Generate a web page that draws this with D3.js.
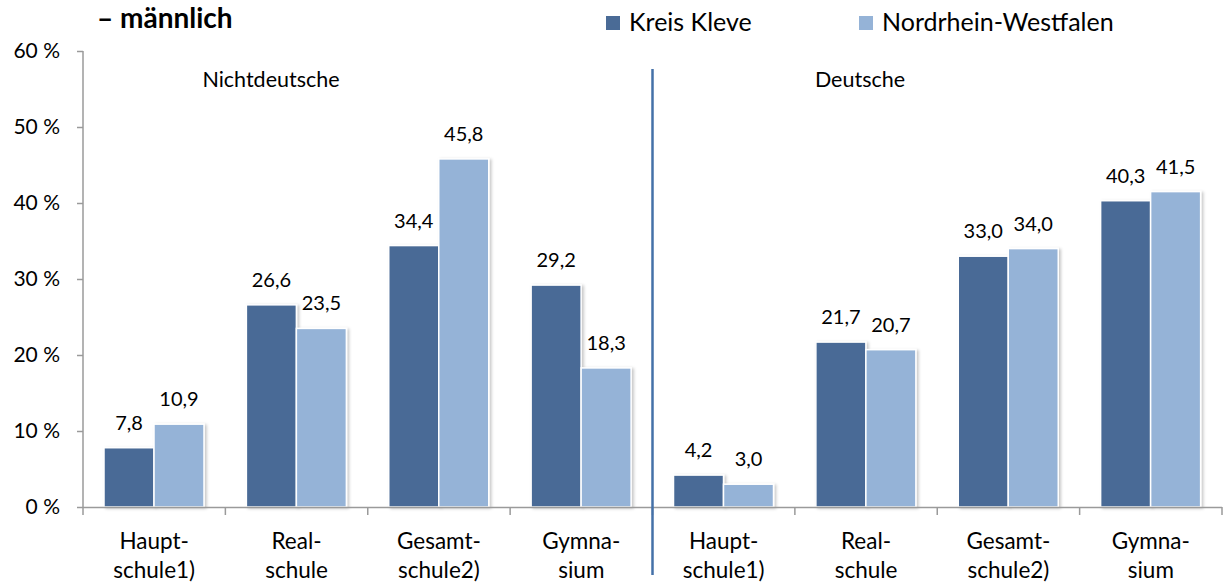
<!DOCTYPE html>
<html><head><meta charset="utf-8">
<script src="https://cdn.jsdelivr.net/npm/d3@7"></script>
<style>
body{margin:0;background:#fff;}
svg{display:block;font-family:Lato,"Open Sans",sans-serif;}
</style></head>
<body><svg id="c" width="1223" height="583"></svg>
<script>
const categories = ["Haupt-|schule1)","Real-|schule","Gesamt-|schule2)","Gymna-|sium","Haupt-|schule1)","Real-|schule","Gesamt-|schule2)","Gymna-|sium"];
const groups = ["Nichtdeutsche","Deutsche"];
const seriesNames = ["Kreis Kleve","Nordrhein-Westfalen"];
const kreisKleve = [7.8,26.6,34.4,29.2,4.2,21.7,33.0,40.3];
const nrw = [10.9,23.5,45.8,18.3,3.0,20.7,34.0,41.5];
const yTicks = [0,10,20,30,40,50,60];
const colors = ["#4a6b96","#95b3d7"];

const svg = d3.select("#c");
const defs = svg.append("defs");
const f = defs.append("filter").attr("id","sh").attr("x","-20%").attr("y","-20%").attr("width","150%").attr("height","140%");
f.append("feDropShadow").attr("dx",2).attr("dy",1).attr("stdDeviation",1.5).attr("flood-color","#000").attr("flood-opacity",0.22);

const x0 = 83, x1 = 1222, yBase = 507, yTop = 51;
const x = d3.scaleBand().domain(d3.range(categories.length)).range([x0,x1]).padding(0);
const xs = d3.scaleBand().domain(seriesNames).range([21,121]).padding(0);
const y = d3.scaleLinear().domain([0,60]).range([yBase,yTop]);

// axes
const axisCol = "#9a9a9a";
const yAx = svg.append("g").attr("transform",`translate(${x0},0)`)
  .call(d3.axisLeft(y).tickValues(yTicks).tickSize(6).tickPadding(17).tickFormat(d=>d+" %"));
yAx.select(".domain").remove();
yAx.selectAll(".tick line").attr("stroke",axisCol).attr("stroke-width",1.5);
yAx.selectAll(".tick text").attr("font-size",21).attr("fill","#000").attr("font-family","Lato,sans-serif");
svg.append("line").attr("x1",x0).attr("x2",x0).attr("y1",yTop).attr("y2",yBase).attr("stroke",axisCol).attr("stroke-width",1.5);

// bars
const data = categories.map((c,i)=>({i, vals:[kreisKleve[i],nrw[i]]}));
const g = svg.append("g");
data.forEach(d=>{
  d.vals.forEach((v,k)=>{
    g.append("rect")
      .attr("x",x(d.i)+xs(seriesNames[k]))
      .attr("y",y(v))
      .attr("width",xs.bandwidth())
      .attr("height",yBase-y(v))
      .attr("fill",colors[k]).attr("stroke","#fff").attr("stroke-width",1.5)
      .attr("filter","url(#sh)");
    g.append("text")
      .attr("x",x(d.i)+xs(seriesNames[k])+xs.bandwidth()/2)
      .attr("y",y(v)-18)
      .attr("text-anchor","middle").attr("font-size",20).attr("fill","#000")
      .text(d3.format(".1f")(v).replace(".",","));
  });
});

// x axis
svg.append("line").attr("x1",x0).attr("x2",x1).attr("y1",yBase+0.5).attr("y2",yBase+0.5).attr("stroke",axisCol).attr("stroke-width",1.5);
d3.range(categories.length+1).forEach(i=>{
  const xx = i<categories.length ? x(i) : x1;
  svg.append("line").attr("x1",xx).attr("x2",xx).attr("y1",yBase).attr("y2",yBase+8).attr("stroke",axisCol).attr("stroke-width",1.5);
});
categories.forEach((c,i)=>{
  const t = svg.append("text").attr("text-anchor","middle").attr("font-size",22.5).attr("fill","#000");
  c.split("|").forEach((ln,j)=>{
    t.append("tspan").attr("x",x(i)+x.bandwidth()/2).attr("y",549+j*29).text(ln);
  });
});

// separator
const sepX = x(4);
svg.append("line").attr("x1",sepX).attr("x2",sepX).attr("y1",69).attr("y2",575).attr("stroke","#4471a8").attr("stroke-width",2.5);

// group labels
svg.append("text").attr("x",271).attr("y",87).attr("text-anchor","middle").attr("font-size",21.5).text(groups[0]);
svg.append("text").attr("x",860).attr("y",87).attr("text-anchor","middle").attr("font-size",21.5).text(groups[1]);

// title
svg.append("text").attr("x",97).attr("y",28).attr("font-size",28).attr("font-weight","bold").text("– männlich");

// legend
const legX = [606,859];
seriesNames.forEach((s,k)=>{
  svg.append("rect").attr("x",legX[k]).attr("y",16).attr("width",14).attr("height",14).attr("fill",colors[k]);
  svg.append("text").attr("x",legX[k]+23).attr("y",31).attr("font-size",25).text(s);
});
</script></body></html>
